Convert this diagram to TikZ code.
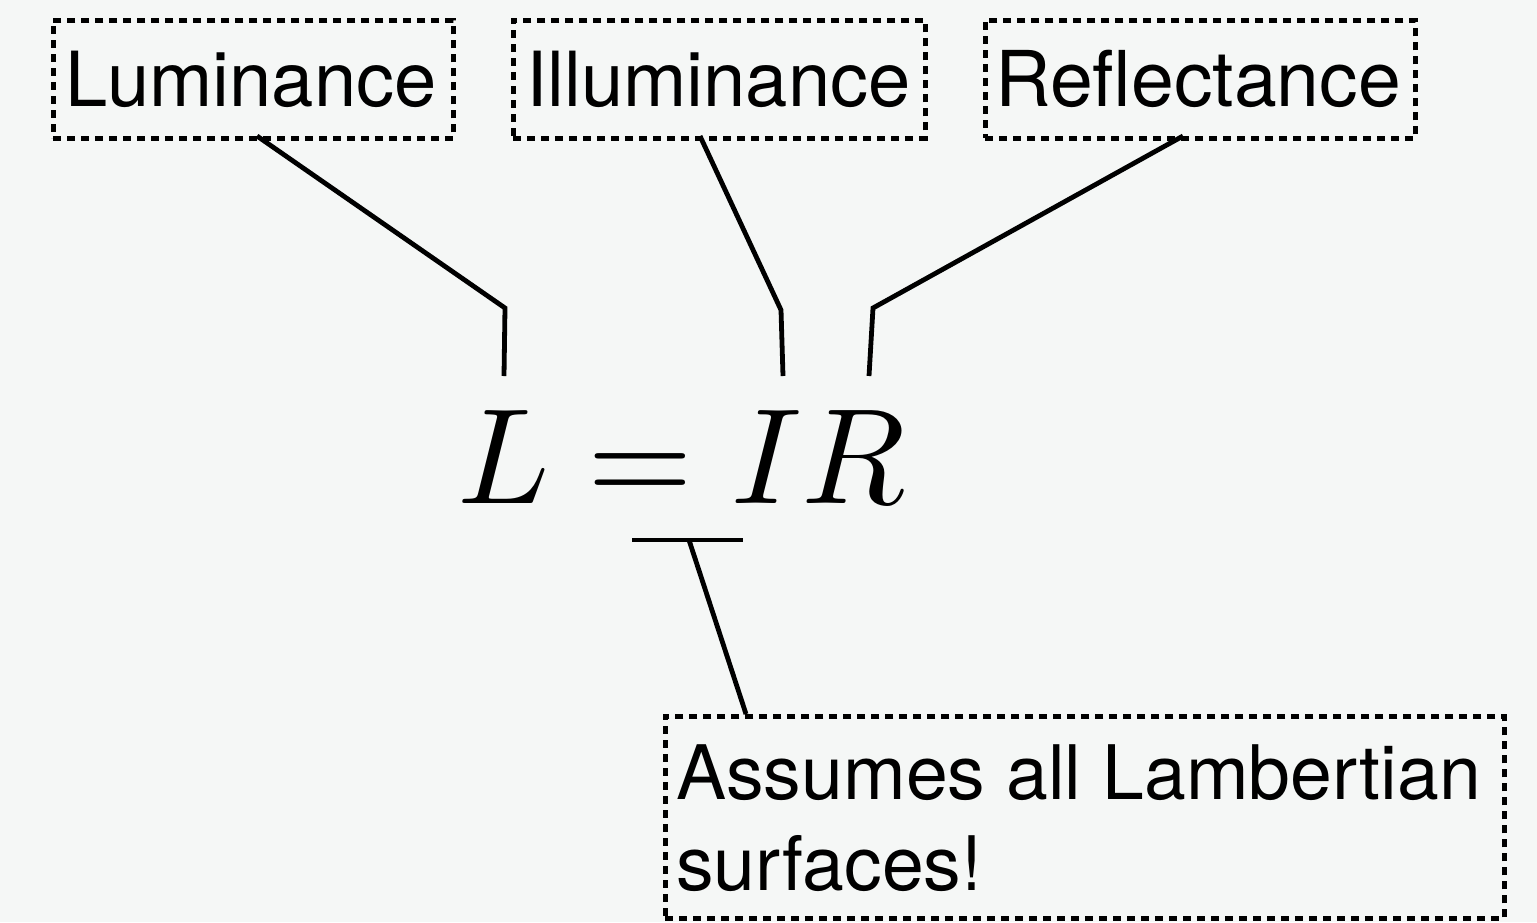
\documentclass[tikz,border=0pt]{standalone}
\usepackage{graphicx}
\usepackage{fontspec}
\setmainfont{TeX Gyre Heros}
\definecolor{bgc}{HTML}{F5F7F6}
\begin{document}
\begin{tikzpicture}[x=1pt,y=-1pt,
  dbox/.style={draw=black, line width=4.5pt, dash pattern=on 8pt off 6pt, inner sep=0pt, anchor=north west},
  lbl/.style={anchor=base west, inner sep=0pt, font=\fontsize{76}{90}\selectfont},
  conn/.style={draw=black, line width=4.8pt}]
\fill[bgc] (0,0) rectangle (1537,922);
\useasboundingbox (0,0) rectangle (1537,922);
% boxes
\node[dbox, minimum width=400pt, minimum height=118pt] (lum) at (51,18) {};
\node[dbox, minimum width=412pt, minimum height=118pt] (ill) at (511,18) {};
\node[dbox, minimum width=430pt, minimum height=118pt] (ref) at (983,18) {};
\node[dbox, minimum width=839pt, minimum height=202pt] (ass) at (663,714) {};
% labels
\node[lbl] (lumt) at (65,106) {Luminance};
\node[lbl] (illt) at (526,106) {Illuminance};
\node[lbl, font=\fontsize{77}{90}\selectfont] (reft) at (995,106) {Reflectance};
\node[lbl, font=\fontsize{75.2}{91}\selectfont, align=left, anchor=north west] (asst) at (676,744) {Assumes all Lambertian\\surfaces!};
% equation
\node[anchor=base west, inner sep=0pt] (eq) at (457,503) {\fontsize{10}{12}\selectfont\scalebox{13.6}{$L = IR$}};
% connector points
\coordinate (lA) at (257,136);
\coordinate (lB) at (505,308);
\coordinate (lC) at (504,376);
\coordinate (iA) at (700,136);
\coordinate (iB) at (781,310);
\coordinate (iC) at (783,376);
\coordinate (rA) at (1183,136);
\coordinate (rB) at (873,308);
\coordinate (rC) at (869,376);
\coordinate (uL) at (632,540);
\coordinate (uR) at (743,540);
\coordinate (uM) at (689,540);
\coordinate (aA) at (746,714);
\draw[conn] (lA) -- (lB) -- (lC);
\draw[conn] (iA) -- (iB) -- (iC);
\draw[conn] (rA) -- (rB) -- (rC);
\draw[conn] (uL) -- (uR);
\draw[conn] (uM) -- (aA);
\end{tikzpicture}
\end{document}
